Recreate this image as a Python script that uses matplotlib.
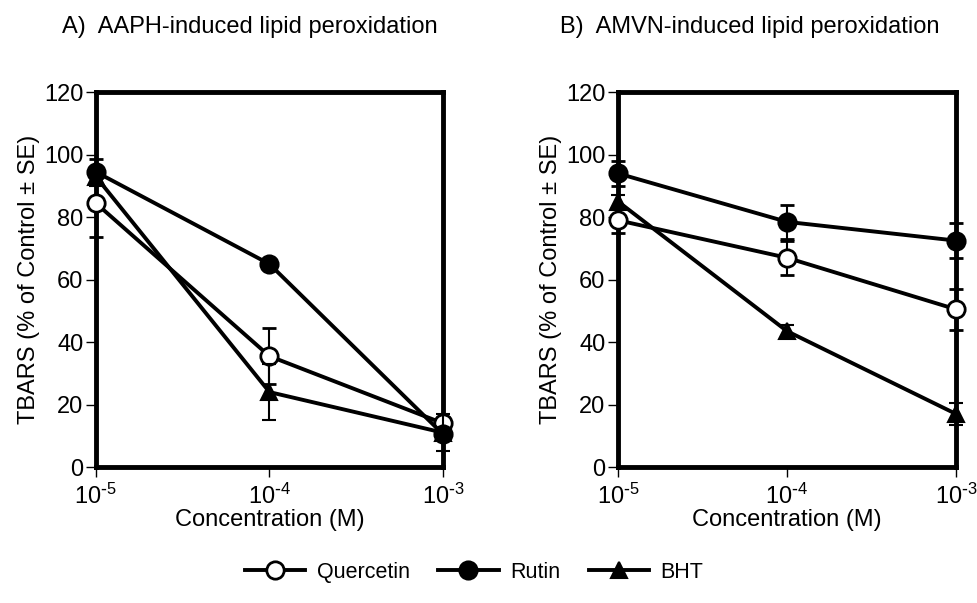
import matplotlib
matplotlib.use("Agg")
import matplotlib.pyplot as plt
from matplotlib.lines import Line2D
from matplotlib.ticker import FixedFormatter

plt.rcParams['font.family'] = ['Liberation Sans', 'DejaVu Sans']
plt.rcParams['mathtext.default'] = 'regular'

conc = [1e-5, 1e-4, 1e-3]
xticklabels = [r"10$^{\text{-}5}$", r"10$^{\text{-}4}$", r"10$^{\text{-}3}$"]
series = ["Quercetin", "Rutin", "BHT"]

# Panel A: AAPH
a_quercetin = [84.5, 35.5, 14.0]
a_quercetin_se = [11.0, 9.0, 2.0]
a_rutin = [94.5, 65.0, 10.5]
a_rutin_se = [4.0, 1.0, 2.0]
a_bht = [93.0, 24.0, 11.0]
a_bht_se = [3.0, 9.0, 6.0]

# Panel B: AMVN
b_quercetin = [79.0, 67.0, 50.5]
b_quercetin_se = [4.0, 5.5, 6.5]
b_rutin = [94.0, 78.5, 72.5]
b_rutin_se = [4.0, 5.5, 5.7]
b_bht = [85.0, 43.5, 17.0]
b_bht_se = [2.0, 2.0, 3.5]

titles = ["A)  AAPH-induced lipid peroxidation", "B)  AMVN-induced lipid peroxidation"]
yticks = [0, 20, 40, 60, 80, 100, 120]

fig = plt.figure(figsize=(9.78, 6.03), dpi=100)
ax1 = fig.add_axes([0.098, 0.2255, 0.355, 0.6215])
ax2 = fig.add_axes([0.632, 0.2255, 0.3455, 0.6215])

styles = {
    "Quercetin": dict(marker='o', mfc='white', mec='black', ms=12.5, mew=2.0),
    "Rutin": dict(marker='o', mfc='black', mec='black', ms=12.5, mew=2.0),
    "BHT": dict(marker='^', mfc='black', mec='black', ms=11, mew=1.5),
}

panels = [
    (ax1, [(a_quercetin, a_quercetin_se), (a_rutin, a_rutin_se), (a_bht, a_bht_se)]),
    (ax2, [(b_quercetin, b_quercetin_se), (b_rutin, b_rutin_se), (b_bht, b_bht_se)]),
]

for i, (ax, data) in enumerate(panels):
    order = [2, 0, 1]
    for k in order:
        name = series[k]
        vals, se = data[k]
        eb = ax.errorbar(conc, vals, yerr=se, color='black', lw=2.8,
                         elinewidth=1.5, capsize=5, capthick=1.5,
                         clip_on=False, zorder=3 + k, **styles[name])
        for art in eb.get_children():
            art.set_clip_on(False)
    ax.set_xscale('log')
    ax.set_xlim(1e-5, 1e-3)
    ax.set_ylim(0, 120)
    ax.set_yticks(yticks)
    ax.set_xticks(conc)
    ax.xaxis.set_major_formatter(FixedFormatter(xticklabels))
    ax.minorticks_off()
    for s in ax.spines.values():
        s.set_linewidth(3.5)
    ax.tick_params(axis='both', direction='out', length=7, width=1,
                   labelsize=17, pad=2)
    ax.tick_params(axis='x', pad=5)
    ax.set_ylabel("TBARS (% of Control ± SE)", fontsize=17, labelpad=3)
    ax.set_xlabel("Concentration (M)", fontsize=17, labelpad=0)

fig.text(62 / 978, 1 - 27 / 603, titles[0], fontsize=17, ha='left', va='center')
fig.text(560 / 978, 1 - 27 / 603, titles[1], fontsize=17, ha='left', va='center')

handles = [Line2D([0], [0], color='black', lw=2.8, **styles[n]) for n in series]
fig.legend(handles, series, loc='center', bbox_to_anchor=(0.485, 0.051), ncol=3,
           frameon=False, fontsize=15.5, handlelength=2.8, columnspacing=1.3,
           handletextpad=0.55)

fig.savefig("out.png", dpi=100)
